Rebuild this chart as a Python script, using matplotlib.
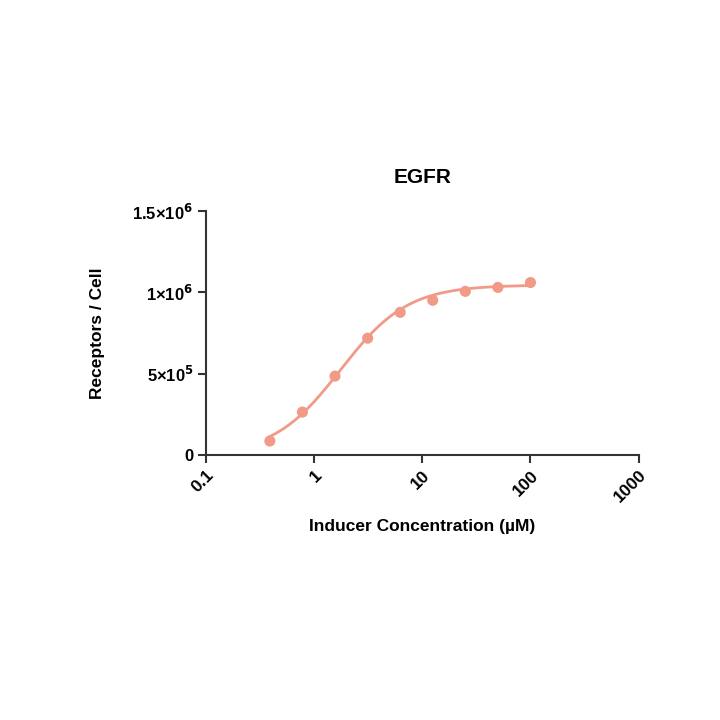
import numpy as np
import matplotlib
matplotlib.use('Agg')
import matplotlib.pyplot as plt
from matplotlib.ticker import FixedLocator, NullLocator

plt.rcParams['font.family'] = ['Liberation Sans', 'DejaVu Sans']
plt.rcParams['font.weight'] = 'bold'
plt.rcParams['mathtext.default'] = 'bf'

conc = [0.39, 0.78, 1.56, 3.125, 6.25, 12.5, 25, 50, 100]
receptors = [0.086e6, 0.264e6, 0.485e6, 0.718e6, 0.877e6, 0.951e6, 1.006e6, 1.03e6, 1.06e6]

# fitted 4PL curve parameters (estimated from the drawn line)
fit_bottom = 0.0
fit_top = 1.045e6
fit_ec50 = 1.75
fit_hill = 1.4

x_ticks = [0.1, 1, 10, 100, 1000]
x_tick_labels = ['0.1', '1', '10', '100', '1000']
y_ticks = [0, 0.5e6, 1e6, 1.5e6]
y_tick_labels = ['0', r'5×10$^{5}$', r'1×10$^{6}$', r'1.5×10$^{6}$']

color = '#F29A88'
axis_color = '#333333'

fig = plt.figure(figsize=(7.2, 7.2), dpi=100)
ax = fig.add_axes([0.286, 0.368, 0.601, 0.339])

xs = np.logspace(np.log10(conc[0]), np.log10(conc[-1]), 200)
ys = fit_bottom + (fit_top - fit_bottom) / (1 + (fit_ec50 / xs) ** fit_hill)
ax.plot(xs, ys, color=color, lw=2, zorder=2)
ax.scatter(conc, receptors, s=64, color=color, zorder=3, edgecolors='none')

ax.set_xscale('log')
ax.set_xlim(0.1, 1000)
ax.set_ylim(0, 1.5e6)
ax.xaxis.set_major_locator(FixedLocator(x_ticks))
ax.xaxis.set_minor_locator(NullLocator())
ax.set_xticklabels(x_tick_labels, rotation=45, ha='right', va='top',
                   rotation_mode='anchor', fontsize=12.5, fontweight='bold')
ax.set_yticks(y_ticks)
ax.set_yticklabels(y_tick_labels, fontsize=12, fontweight='bold')

for side in ['top', 'right']:
    ax.spines[side].set_visible(False)
for side in ['left', 'bottom']:
    ax.spines[side].set_color(axis_color)
    ax.spines[side].set_linewidth(1.5)
ax.tick_params(axis='both', direction='out', length=6, width=1.5,
               color=axis_color, pad=3)

ax.set_title('EGFR', fontsize=15, fontweight='bold', pad=20)
ax.set_xlabel('Inducer Concentration (µM)', fontsize=12.5, fontweight='bold', labelpad=10)
ax.set_ylabel('Receptors / Cell', fontsize=12.5, fontweight='bold', labelpad=20)

fig.savefig('out.png', dpi=100)
